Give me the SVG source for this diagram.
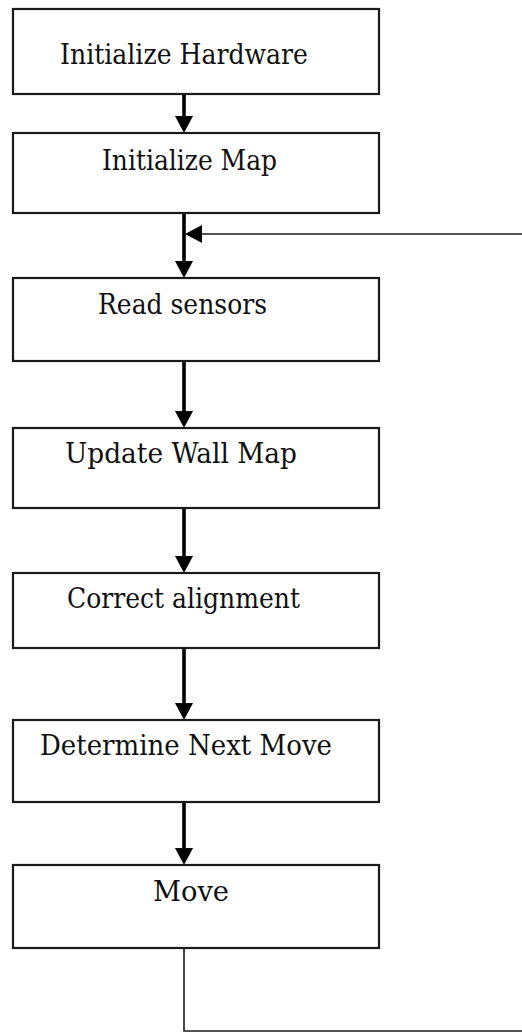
<svg xmlns="http://www.w3.org/2000/svg" width="522" height="1032" viewBox="0 0 522 1032">
  <style>
    .box { fill: #ffffff; stroke: #1a1a1a; stroke-width: 2.2; }
    .label { font-family: "DejaVu Serif", "Liberation Serif", serif; font-size: 28px; fill: #111111; }
    .flow { stroke: #000000; stroke-width: 3.6; fill: none; }
    .loop { stroke: #1a1a1a; stroke-width: 1.6; fill: none; }
  </style>
  <defs>
    <marker id="arrow" markerUnits="userSpaceOnUse" viewBox="0 0 17 18" markerWidth="17" markerHeight="18" refX="7" refY="9" orient="auto">
      <path d="M0,0 L17,9 L0,18 Z" fill="#000000"/>
    </marker>
  </defs>

  <rect width="522" height="1032" fill="#ffffff"/>

  <!-- connectors -->
  <g id="connectors">
    <line class="flow" x1="184" y1="94" x2="184" y2="123" marker-end="url(#arrow)"/>
    <line class="flow" x1="184" y1="213" x2="184" y2="268" marker-end="url(#arrow)"/>
    <line class="flow" x1="184" y1="361" x2="184" y2="418" marker-end="url(#arrow)"/>
    <line class="flow" x1="184" y1="508" x2="184" y2="563" marker-end="url(#arrow)"/>
    <line class="flow" x1="184" y1="648" x2="184" y2="710" marker-end="url(#arrow)"/>
    <line class="flow" x1="184" y1="802" x2="184" y2="855" marker-end="url(#arrow)"/>
    <!-- loop back from Move to Read sensors -->
    <polyline class="loop" points="184,948 184,1031 522,1031"/>
    <line class="loop" x1="522" y1="234" x2="195" y2="234" marker-end="url(#arrow)"/>
  </g>

  <g id="init-hardware">
    <rect class="box" x="13" y="9" width="366" height="85"/>
    <text class="label" x="60" y="64" textLength="248" lengthAdjust="spacingAndGlyphs">Initialize Hardware</text>
  </g>
  <g id="init-map">
    <rect class="box" x="13" y="133" width="366" height="80"/>
    <text class="label" x="102" y="170" textLength="175" lengthAdjust="spacingAndGlyphs">Initialize Map</text>
  </g>
  <g id="read-sensors">
    <rect class="box" x="13" y="278" width="366" height="83"/>
    <text class="label" x="98" y="314" textLength="169" lengthAdjust="spacingAndGlyphs">Read sensors</text>
  </g>
  <g id="update-wall-map">
    <rect class="box" x="13" y="428" width="366" height="80"/>
    <text class="label" x="65" y="463" textLength="232" lengthAdjust="spacingAndGlyphs">Update Wall Map</text>
  </g>
  <g id="correct-alignment">
    <rect class="box" x="13" y="573" width="366" height="75"/>
    <text class="label" x="67" y="608" textLength="233" lengthAdjust="spacingAndGlyphs">Correct alignment</text>
  </g>
  <g id="determine-next-move">
    <rect class="box" x="13" y="720" width="366" height="82"/>
    <text class="label" x="40" y="755" textLength="292" lengthAdjust="spacingAndGlyphs">Determine Next Move</text>
  </g>
  <g id="move">
    <rect class="box" x="13" y="865" width="366" height="83"/>
    <text class="label" x="153" y="901" textLength="76" lengthAdjust="spacingAndGlyphs">Move</text>
  </g>
</svg>
